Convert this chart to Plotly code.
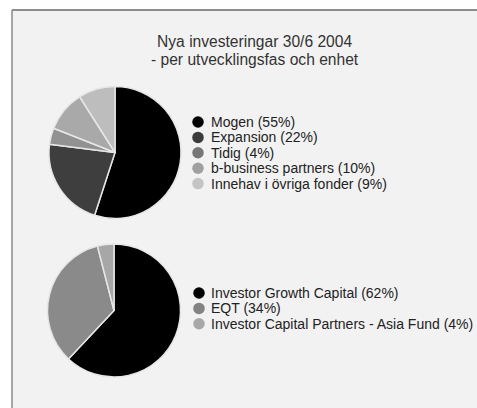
import plotly.graph_objects as go

W, H = 477, 408

title_lines = ["Nya investeringar 30/6 2004", "- per utvecklingsfas och enhet"]

fas_labels = ["Mogen", "Expansion", "Tidig", "b-business partners", "Innehav i övriga fonder"]
fas_values = [55, 22, 4, 10, 9]
fas_colors = ["#000000", "#3e3e3e", "#929292", "#a9a9a9", "#bdbdbd"]
fas_legend_colors = ["#000000", "#3c3c3c", "#777777", "#a0a0a0", "#c4c4c4"]

enhet_labels = ["Investor Growth Capital", "EQT", "Investor Capital Partners - Asia Fund"]
enhet_values = [62, 34, 4]
enhet_colors = ["#000000", "#8a8a8a", "#a7a7a7"]
enhet_legend_colors = ["#000000", "#838383", "#a8a8a8"]

FONT = "Liberation Sans"
ROW = 15.4  # legend row spacing in px


def px_dom(cx, cy, r):
    return dict(x=[(cx - r) / W, (cx + r) / W], y=[(H - cy - r) / H, (H - cy + r) / H])


fig = go.Figure()
fig.add_trace(go.Pie(labels=fas_labels, values=fas_values, sort=False, direction="clockwise",
                     rotation=0, marker=dict(colors=fas_colors, line=dict(color="#e6e6e6", width=1.5)),
                     textinfo="none", hoverinfo="label+percent", showlegend=False,
                     domain=px_dom(115, 152.5, 66)))
fig.add_trace(go.Pie(labels=enhet_labels, values=enhet_values, sort=False, direction="clockwise",
                     rotation=0, marker=dict(colors=enhet_colors, line=dict(color="#e6e6e6", width=1.5)),
                     textinfo="none", hoverinfo="label+percent", showlegend=False,
                     domain=px_dom(114, 310.5, 66.5)))

annotations = []
annotations.append(dict(x=255 / W, y=(H - 50.5) / H, xref="paper", yref="paper",
                        text="<br>".join(f"<span style='font-size:15.6px'>{t}</span>" for t in title_lines),
                        showarrow=False, xanchor="center", yanchor="middle",
                        align="center", font=dict(family=FONT, size=14, color="#333333")))


def add_legend(labels, values, colors, x_dot, x_text, y_first):
    n = len(labels)
    y_mid = y_first + (n - 1) * ROW / 2
    ys = [y_first + i * ROW for i in range(n)]
    fig.add_trace(go.Scatter(x=[x_dot] * n, y=ys, mode="markers", hoverinfo="skip", showlegend=False,
                             marker=dict(size=11.5, color=colors, line=dict(width=0))))
    texts = "<br>".join(f"<span style='font-size:14px'>{l} ({v}%)</span>" for l, v in zip(labels, values))
    annotations.append(dict(x=x_text / W, y=(H - y_mid) / H, xref="paper", yref="paper", text=texts,
                            showarrow=False, xanchor="left", yanchor="middle", align="left",
                            font=dict(family=FONT, size=ROW / 1.3, color="#222222")))


add_legend(fas_labels, fas_values, fas_legend_colors, 198, 209, 122)
add_legend(enhet_labels, enhet_values, enhet_legend_colors, 199, 209, 293)

shapes = [
    dict(type="rect", xref="paper", yref="paper", x0=12 / W, x1=1.0, y0=0.0, y1=(H - 10) / H,
         fillcolor="#f2f2f2", line=dict(width=0), layer="below"),
    dict(type="line", xref="paper", yref="paper", x0=12 / W, x1=1.0, y0=(H - 10) / H, y1=(H - 10) / H,
         line=dict(color="#6a6a6a", width=1.5), layer="below"),
    dict(type="line", xref="paper", yref="paper", x0=12 / W, x1=12 / W, y0=0.0, y1=(H - 10) / H,
         line=dict(color="#8a8a8a", width=1.5), layer="below"),
]

fig.update_layout(width=W, height=H, margin=dict(l=0, r=0, t=0, b=0), paper_bgcolor="#ffffff",
                  plot_bgcolor="rgba(0,0,0,0)", shapes=shapes, annotations=annotations, showlegend=False,
                  xaxis=dict(range=[0, W], domain=[0, 1], visible=False, fixedrange=True),
                  yaxis=dict(range=[H, 0], domain=[0, 1], visible=False, fixedrange=True))

fig.write_html("out.html", config={"displayModeBar": False},
               post_script="document.body.style.margin='0';document.body.style.overflow='hidden';"
                           "document.documentElement.style.overflow='hidden';")
